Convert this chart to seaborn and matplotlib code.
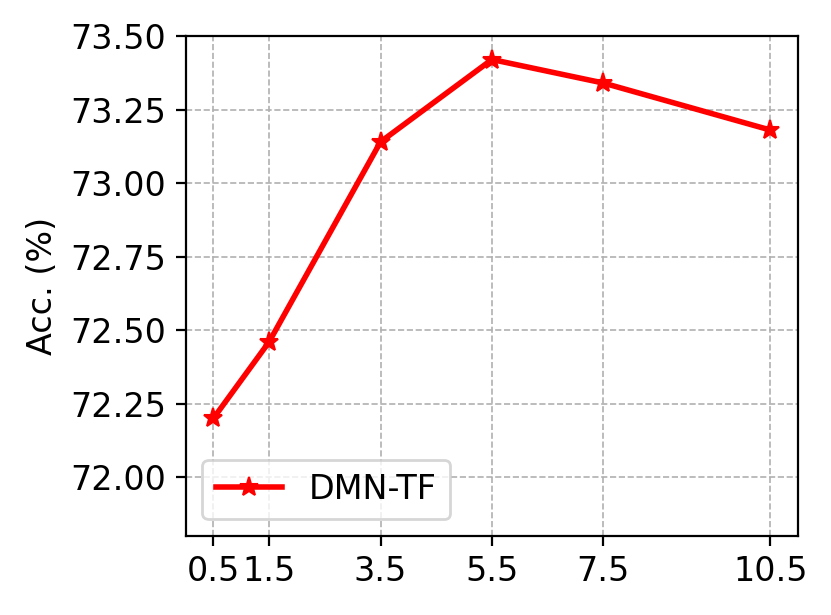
import seaborn as sns
import matplotlib.pyplot as plt
import pandas as pd

# Dados
x_vals = [0.5, 1.5, 3.5, 5.5, 7.5, 10.5]
acc = [72.20, 72.46, 73.14, 73.42, 73.34, 73.18]
serie = 'DMN-TF'

df = pd.DataFrame({'x': x_vals, 'acc': acc})

fig, ax = plt.subplots(figsize=(4.155, 3.075), dpi=200)
fig.subplots_adjust(left=0.2233, right=0.9607, top=0.9415, bottom=0.1285)

sns.lineplot(data=df, x='x', y='acc', marker='*', color='red', linewidth=2,
             markersize=7, markeredgecolor='red', label=serie, ax=ax)

ax.set_ylim(71.8, 73.5)
ax.set_yticks([72.00, 72.25, 72.50, 72.75, 73.00, 73.25, 73.50])
ax.set_yticklabels([f'{v:.2f}' for v in ax.get_yticks()])
ax.set_xticks(x_vals)
ax.set_xticklabels([str(v) for v in x_vals])
ax.tick_params(labelsize=12)
ax.set_xlabel('')
ax.set_ylabel('Acc. (%)', fontsize=12)
ax.grid(True, linestyle='--', color='#b0b0b0', linewidth=0.6)
ax.legend(loc='lower left', fontsize=12)

plt.savefig('out.png', dpi=200)
